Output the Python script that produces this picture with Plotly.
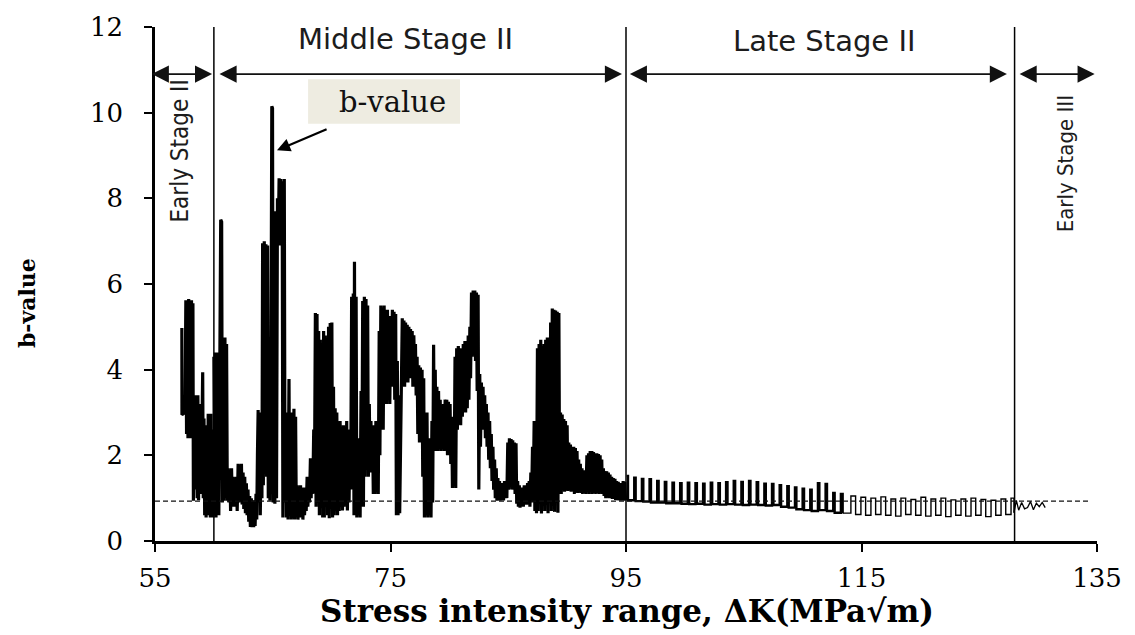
import plotly.graph_objects as go

# ---- b-value vs stress intensity range ----
# Early Stage II readings (ΔK in MPa√m, b-value)
dk_early = [57.28, 57.29, 57.55, 57.62, 57.68, 57.74, 57.80, 57.86, 57.92, 57.98,
            58.04, 58.10, 58.16, 58.22, 58.26, 58.32, 58.40, 58.46, 58.52, 58.58,
            58.64, 58.70, 58.76, 58.82, 58.88, 58.94, 59.00, 59.05, 59.10, 59.16,
            59.22, 59.28, 59.34, 59.40, 59.46, 59.52, 59.58, 59.64, 59.70, 59.76,
            59.82, 59.88, 59.94]
b_early = [4.97, 2.95, 3.0, 5.62, 2.5, 5.6, 2.4, 5.65, 2.6, 5.6,
           2.4, 5.62, 2.4, 5.55, 0.94, 3.2, 3.4, 1.2, 3.3, 1.0,
           3.4, 0.95, 3.2, 1.5, 3.0, 1.1, 2.8, 3.94, 1.0, 2.86,
           0.6, 2.5, 0.55, 2.7, 0.7, 2.97, 0.6, 2.8, 0.55, 2.97,
           0.65, 2.6, 0.55]

# Middle Stage II readings
dk_middle = [
    60.00, 60.06, 60.12, 60.18, 60.24, 60.30, 60.36, 60.42, 60.50, 60.58,
    60.66, 60.72, 60.80, 60.86, 60.94, 61.00, 61.08, 61.14, 61.22, 61.28,
    61.36, 61.42, 61.50, 61.56, 61.64, 61.70, 61.78, 61.84, 61.92, 61.98,
    62.06, 62.12, 62.20, 62.26, 62.34, 62.40, 62.48, 62.54, 62.62, 62.68,
    62.76, 62.82, 62.90, 62.96, 63.04, 63.10, 63.18, 63.24, 63.32, 63.38,
    63.44, 63.50, 63.58, 63.64, 63.70, 63.76, 63.82, 63.88, 63.94, 64.02,
    64.08, 64.14, 64.20, 64.28, 64.34, 64.42, 64.48, 64.56, 64.62, 64.70,
    64.76, 64.84, 64.92, 64.98, 65.04, 65.12, 65.18, 65.26, 65.32, 65.40,
    65.46, 65.54, 65.60, 65.68, 65.74, 65.80, 65.86, 65.92, 65.98, 66.04,
    66.10, 66.16, 66.24, 66.30, 66.38, 66.44, 66.52, 66.58, 66.66, 66.72,
    66.80, 66.86, 66.94, 67.00, 67.08, 67.14, 67.22, 67.28, 67.36, 67.42,
    67.50, 67.56, 67.64, 67.70, 67.78, 67.84, 67.92, 67.98, 68.06, 68.12,
    68.20, 68.26, 68.34, 68.40, 68.48, 68.54, 68.62, 68.68, 68.76, 68.82,
    68.90, 68.96, 69.04, 69.10, 69.18, 69.24, 69.32, 69.38, 69.46, 69.52,
    69.60, 69.66, 69.74, 69.80, 69.88, 69.94, 70.02, 70.08, 70.16, 70.22,
    70.30, 70.36, 70.44, 70.50, 70.58, 70.64, 70.72, 70.78, 70.86, 70.92,
    71.00, 71.06, 71.14, 71.20, 71.28, 71.34, 71.42, 71.48, 71.56, 71.62,
    71.70, 71.76, 71.84, 71.90, 71.94, 72.00, 72.08, 72.14, 72.22, 72.28,
    72.36, 72.42, 72.50, 72.56, 72.64, 72.70, 72.78, 72.84, 72.92, 72.98,
    73.06, 73.12, 73.20, 73.26, 73.34, 73.40, 73.48, 73.54, 73.62, 73.68,
    73.76, 73.82, 73.90, 73.96, 74.04, 74.10, 74.18, 74.24, 74.32, 74.38,
    74.46, 74.52, 74.60, 74.66, 74.74, 74.80, 74.88, 74.94, 75.02, 75.08,
    75.16, 75.22, 75.30, 75.36, 75.44, 75.50, 75.58, 75.64, 75.72, 75.78,
    75.86, 75.92, 76.00, 76.06, 76.14, 76.20, 76.28, 76.34, 76.42, 76.48,
    76.56, 76.62, 76.70, 76.76, 76.84, 76.90, 76.98, 77.04, 77.12, 77.18,
    77.26, 77.32, 77.40, 77.46, 77.54, 77.60, 77.68, 77.74, 77.82, 77.88,
    77.96, 78.02, 78.10, 78.16, 78.24, 78.30, 78.38, 78.44, 78.52, 78.58,
    78.66, 78.72, 78.80, 78.86, 78.94, 79.00, 79.08, 79.14, 79.22, 79.28,
    79.36, 79.42, 79.50, 79.56, 79.64, 79.70, 79.78, 79.84, 79.92, 79.98,
    80.06, 80.12, 80.20, 80.26, 80.34, 80.40, 80.48, 80.54, 80.62, 80.68,
    80.76, 80.82, 80.90, 80.96, 81.04, 81.10, 81.18, 81.24, 81.32, 81.38,
    81.46, 81.52, 81.60, 81.66, 81.74, 81.80, 81.88, 81.94, 82.02, 82.08,
    82.16, 82.22, 82.30, 82.36, 82.44, 82.50, 82.58, 82.64, 82.72, 82.78,
    82.86, 82.92, 83.00, 83.06, 83.14, 83.20, 83.28, 83.34, 83.42, 83.48,
    83.56, 83.62, 83.70, 83.76, 83.84, 83.90, 83.98, 84.04, 84.12, 84.18,
    84.26, 84.32, 84.40, 84.46, 84.54, 84.60, 84.68, 84.74, 84.82, 84.88,
    84.96, 85.02, 85.10, 85.16, 85.24, 85.30, 85.38, 85.44, 85.52, 85.58,
    85.66, 85.72, 85.80, 85.86, 85.94, 86.00, 86.08, 86.14, 86.22, 86.28,
    86.36, 86.42, 86.50, 86.56, 86.64, 86.70, 86.78, 86.84, 86.92, 86.98,
    87.06, 87.12, 87.20, 87.26, 87.34, 87.40, 87.48, 87.54, 87.62, 87.68,
    87.76, 87.82, 87.90, 87.96, 88.04, 88.10, 88.18, 88.24, 88.32, 88.38,
    88.46, 88.52, 88.60, 88.66, 88.74, 88.80, 88.88, 88.94, 89.02, 89.08,
    89.16, 89.22, 89.30, 89.36, 89.44, 89.50, 89.58, 89.64, 89.72, 89.78,
    89.86, 89.92, 90.00, 90.06, 90.14, 90.20, 90.28, 90.34, 90.42, 90.48,
    90.56, 90.62, 90.70, 90.76, 90.84, 90.90, 90.98, 91.04, 91.12, 91.18,
    91.26, 91.32, 91.40, 91.46, 91.54, 91.60, 91.68, 91.74, 91.82, 91.88,
    91.96, 92.02, 92.10, 92.16, 92.24, 92.30, 92.38, 92.44, 92.52, 92.58,
    92.66, 92.72, 92.80, 92.86, 92.94, 93.00, 93.08, 93.14, 93.22, 93.28,
    93.36, 93.42, 93.50, 93.56, 93.64, 93.70, 93.78, 93.84, 93.92, 93.98,
    94.06, 94.12, 94.20, 94.26, 94.34, 94.40, 94.48, 94.54, 94.62, 94.68,
    94.76, 94.82, 94.90, 94.96]
b_middle = [
    4.3, 0.6, 4.4, 0.55, 4.2, 0.9, 4.4, 0.6, 3.9, 7.5,
    7.45, 0.9, 2.0, 0.94, 4.75, 1.0, 4.6, 0.94, 1.7, 0.9,
    1.6, 0.7, 1.7, 0.94, 1.5, 0.8, 1.45, 0.9, 1.5, 0.7,
    1.8, 0.9, 1.75, 1.0, 1.8, 0.85, 1.6, 0.75, 1.5, 0.65,
    1.35, 0.6, 1.2, 0.45, 1.05, 0.33, 1.0, 0.32, 0.95, 0.32,
    0.9, 0.35, 1.1, 0.5, 2.0, 3.06, 0.9, 3.0, 0.6, 2.2,
    1.0, 6.95, 1.3, 7.0, 2.0, 6.93, 1.5, 6.9, 1.0, 4.4,
    0.94, 3.5, 10.15, 10.1, 0.9, 6.0, 0.87, 7.7, 1.0, 8.0,
    6.9, 8.47, 6.9, 8.45, 7.7, 8.4, 0.55, 6.9, 8.45, 0.9,
    3.0, 0.55, 2.0, 0.5, 3.78, 0.6, 2.5, 0.5, 3.0, 0.55,
    3.09, 0.5, 2.9, 0.6, 1.3, 0.5, 1.17, 0.55, 1.3, 0.6,
    1.2, 0.5, 1.25, 0.6, 1.17, 0.7, 1.5, 0.8, 1.3, 0.9,
    1.93, 1.0, 1.9, 1.1, 2.6, 1.2, 5.32, 0.8, 5.3, 1.0,
    4.9, 0.6, 4.7, 1.1, 4.6, 0.55, 4.9, 0.55, 4.8, 1.0,
    4.6, 0.6, 5.0, 0.53, 5.09, 1.0, 5.1, 0.55, 3.6, 0.6,
    3.1, 0.9, 3.0, 0.6, 2.5, 0.7, 2.8, 1.0, 2.6, 0.71,
    2.7, 0.8, 2.5, 1.0, 2.8, 0.71, 2.4, 0.9, 2.6, 1.2,
    5.7, 1.5, 5.78, 0.6, 6.52, 1.0, 5.7, 0.55, 2.4, 0.6,
    2.0, 0.55, 3.5, 0.9, 5.6, 0.8, 5.7, 1.5, 5.65, 1.9,
    5.5, 1.5, 3.2, 1.6, 2.8, 1.9, 2.5, 1.1, 2.7, 1.1,
    2.8, 1.2, 2.6, 1.1, 4.9, 2.0, 5.5, 3.5, 5.45, 2.6,
    5.5, 3.4, 5.4, 3.2, 5.4, 3.5, 5.25, 3.2, 5.2, 3.6,
    5.4, 4.0, 5.35, 3.3, 5.3, 0.6, 4.2, 0.6, 3.4, 0.65,
    3.0, 2.8, 5.2, 3.8, 5.15, 3.6, 5.1, 4.0, 5.05, 3.7,
    5.0, 3.8, 4.95, 4.3, 4.9, 3.6, 4.8, 4.1, 4.6, 3.4,
    4.3, 2.5, 4.1, 2.3, 4.05, 2.6, 4.0, 1.5, 3.8, 0.55,
    2.6, 0.6, 3.0, 0.55, 2.4, 0.6, 2.2, 0.55, 2.8, 0.9,
    4.58, 2.2, 4.0, 2.1, 3.6, 2.1, 3.5, 2.3, 3.3, 2.1,
    3.1, 2.2, 3.2, 2.1, 3.3, 2.2, 3.3, 2.0, 3.25, 2.2,
    3.2, 1.8, 2.9, 1.24, 2.7, 1.3, 4.3, 1.24, 4.5, 2.6,
    4.55, 2.8, 4.5, 2.7, 4.47, 2.9, 4.6, 3.2, 4.67, 3.0,
    4.6, 3.1, 4.8, 3.3, 5.0, 3.8, 5.8, 4.3, 5.85, 4.6,
    5.85, 4.2, 5.8, 3.5, 5.75, 1.2, 3.9, 2.2, 3.7, 2.8,
    3.6, 2.6, 3.4, 2.4, 3.2, 2.2, 3.0, 1.9, 2.8, 1.7,
    2.5, 1.4, 2.2, 1.2, 1.9, 1.0, 1.7, 0.94, 1.47, 1.0,
    1.4, 0.94, 1.35, 1.0, 1.33, 0.95, 1.4, 1.0, 1.35, 1.0,
    2.3, 1.2, 2.4, 1.3, 2.38, 1.2, 2.35, 1.2, 2.3, 1.1,
    2.28, 0.87, 1.4, 0.8, 1.3, 0.78, 1.25, 0.85, 1.2, 0.8,
    1.3, 0.87, 1.25, 0.85, 1.35, 0.9, 1.4, 0.8, 1.6, 0.9,
    2.2, 1.0, 2.8, 0.7, 2.6, 0.65, 4.5, 0.7, 4.6, 1.0,
    4.7, 0.64, 4.55, 1.1, 4.6, 0.7, 4.7, 1.6, 4.75, 0.65,
    4.75, 1.2, 5.1, 0.7, 5.43, 1.5, 5.4, 0.68, 5.38, 1.4,
    5.35, 0.66, 5.32, 1.2, 3.0, 1.1, 2.95, 1.2, 2.85, 1.15,
    2.8, 1.2, 2.7, 1.17, 2.3, 1.2, 2.25, 1.15, 2.2, 1.17,
    2.2, 1.1, 2.17, 1.15, 2.1, 1.12, 1.9, 1.15, 1.8, 1.12,
    1.7, 1.1, 1.65, 1.12, 1.63, 1.1, 2.0, 1.15, 2.05, 1.1,
    2.1, 1.15, 2.1, 1.1, 2.08, 1.12, 2.05, 1.1, 2.05, 1.12,
    2.03, 1.1, 2.0, 1.15, 1.9, 1.1, 1.7, 1.05, 1.6, 1.0,
    1.63, 1.05, 1.6, 1.0, 1.55, 1.0, 1.5, 0.98, 1.47, 1.0,
    1.45, 0.96, 1.4, 0.95, 1.38, 0.96, 1.35, 0.94, 1.33, 0.95,
    1.4, 0.94, 1.38, 0.95]

# Late Stage II readings, first part (alternating upper / lower b-values)
dk_late_a = [95.05, 95.17, 95.70, 95.82, 96.35, 96.47, 97.00, 97.12, 97.65, 97.77,
             98.30, 98.42, 98.95, 99.07, 99.60, 99.72, 100.25, 100.37, 100.90, 101.02,
             101.55, 101.67, 102.20, 102.32, 102.85, 102.97, 103.50, 103.62, 104.15, 104.27,
             104.80, 104.92, 105.45, 105.57, 106.10, 106.22, 106.75, 106.87, 107.40, 107.52,
             108.05, 108.17, 108.70, 108.82, 109.35, 109.47, 110.00, 110.12, 110.65, 110.77,
             111.30, 111.42, 111.95, 112.07, 112.60, 112.72, 113.25, 113.40]
b_late_a = [1.52, 0.95, 1.48, 0.93, 1.45, 0.92, 1.44, 0.90, 1.40, 0.90,
            1.38, 0.88, 1.36, 0.88, 1.35, 0.87, 1.36, 0.86, 1.35, 0.87,
            1.34, 0.85, 1.36, 0.86, 1.35, 0.85, 1.37, 0.86, 1.40, 0.85,
            1.38, 0.84, 1.40, 0.85, 1.37, 0.84, 1.34, 0.83, 1.33, 0.84,
            1.30, 0.80, 1.28, 0.78, 1.25, 0.74, 1.22, 0.72, 1.20, 0.70,
            1.35, 0.72, 1.33, 0.70, 1.12, 0.66, 1.10, 0.65]

# Late Stage II readings, second part
dk_late_b = [113.40, 114.10, 114.50, 114.95, 115.35, 115.80, 116.20, 116.65, 117.05, 117.50,
             117.90, 118.35, 118.75, 119.20, 119.60, 120.05, 120.45, 120.90, 121.30, 121.75,
             122.15, 122.60, 123.00, 123.45, 123.85, 124.30, 124.70, 125.15, 125.55, 126.00,
             126.40, 126.85, 127.25, 127.70, 127.95]
b_late_b = [0.65, 1.05, 0.62, 1.02, 0.60, 1.00, 0.62, 1.03, 0.60, 0.98,
            0.58, 1.00, 0.62, 0.97, 0.60, 1.02, 0.58, 0.98, 0.60, 1.00,
            0.57, 0.96, 0.60, 0.98, 0.58, 1.00, 0.60, 0.97, 0.57, 0.95,
            0.60, 0.98, 0.62, 1.00, 0.66]

# Early Stage III readings
dk_stage3 = [127.95, 128.15, 128.35, 128.60, 128.85, 129.10, 129.35, 129.60, 129.85, 130.10, 130.35, 130.60]
b_stage3 = [0.66, 0.95, 0.72, 0.90, 0.75, 0.78, 0.92, 0.73, 0.88, 0.80, 0.90, 0.78]

assert len(dk_early) == len(b_early)
assert len(dk_middle) == len(b_middle)
assert len(dk_late_a) == len(b_late_a)
assert len(dk_late_b) == len(b_late_b)
assert len(dk_stage3) == len(b_stage3)

# Stage boundaries, stage spans for the dimension arrows, and mean b-value
stage_bounds = [60, 95, 128]
stage_spans = [(54.6, 59.85), (60.35, 94.66), (95.2, 127.35), (128.3, 134.8)]
b_mean = 0.93
arrow_level = 10.9

x_ticks = [55, 75, 95, 115, 135]
y_ticks = [0, 2, 4, 6, 8, 10, 12]

fig = go.Figure()
line_style = dict(color="black", width=3.2)
fig.add_trace(go.Scatter(x=dk_early, y=b_early, mode="lines", line=line_style,
                         showlegend=False, hoverinfo="skip"))
fig.add_trace(go.Scatter(x=dk_middle, y=b_middle, mode="lines", line=line_style,
                         showlegend=False, hoverinfo="skip"))
fig.add_trace(go.Scatter(x=dk_late_a, y=b_late_a, mode="lines", line_shape="hv",
                         line=dict(color="black", width=2.4),
                         showlegend=False, hoverinfo="skip"))
fig.add_trace(go.Scatter(x=dk_late_b, y=b_late_b, mode="lines", line_shape="hv",
                         line=dict(color="black", width=1.4),
                         showlegend=False, hoverinfo="skip"))
fig.add_trace(go.Scatter(x=dk_stage3, y=b_stage3, mode="lines",
                         line=dict(color="black", width=1.3),
                         showlegend=False, hoverinfo="skip"))

shapes = []
for xb in stage_bounds:
    shapes.append(dict(type="line", xref="x", yref="y", x0=xb, x1=xb, y0=0, y1=12,
                       line=dict(color="black", width=1.5)))
shapes.append(dict(type="line", xref="x", yref="y", x0=55, x1=134.4, y0=b_mean, y1=b_mean,
                   line=dict(color="#111111", width=1.2, dash="5px,3px")))
# callout box behind the "b-value" label
shapes.append(dict(type="rect", xref="x", yref="y", x0=68.0, x1=80.9, y0=9.74, y1=10.78,
                   fillcolor="#EEECE1", line=dict(width=0), layer="below"))

annotations = []
for x0, x1 in stage_spans:
    annotations.append(dict(x=x1, y=arrow_level, ax=x0, ay=arrow_level, xref="x", yref="y",
                            axref="x", ayref="y", text="", showarrow=True,
                            arrowhead=2, startarrowhead=2, arrowside="end+start",
                            arrowsize=1.9, startarrowsize=1.9, arrowwidth=1.8,
                            arrowcolor="#111111", standoff=0, startstandoff=0))

stage_font = dict(family="DejaVu Sans, sans-serif", size=29, color="#1c1c1c")
narrow_font = "Liberation Sans Narrow, DejaVu Sans Condensed, sans-serif"
serif = "DejaVu Serif, Liberation Serif, serif"
annotations += [
    dict(x=76.3, y=11.72, xref="x", yref="y", text="Middle Stage II", showarrow=False,
         font=stage_font),
    dict(x=111.8, y=11.68, xref="x", yref="y", text="Late Stage II", showarrow=False,
         font=stage_font),
    dict(x=57.15, y=9.1, xref="x", yref="y", text="Early Stage II", showarrow=False,
         textangle=-90, font=dict(family=narrow_font, size=24, color="#1c1c1c")),
    dict(x=132.3, y=8.8, xref="x", yref="y", text="Early Stage III", showarrow=False,
         textangle=-90, font=dict(family=narrow_font, size=22, color="#1c1c1c")),
    dict(x=75.2, y=10.26, xref="x", yref="y", text="b-value", showarrow=False,
         font=dict(family=serif, size=29, color="#111111")),
    # pointer from the label to the b-value trace
    dict(x=65.36, y=9.12, ax=69.7, ay=9.63, xref="x", yref="y", axref="x", ayref="y",
         text="", showarrow=True, arrowhead=2, arrowsize=1.2, arrowwidth=2.2,
         arrowcolor="black", standoff=0),
    dict(x=0.501, y=-0.136, xref="paper", yref="paper", xanchor="center", yanchor="middle",
         text="<b>Stress intensity range, ΔK(MPa√m)</b>", showarrow=False,
         font=dict(family=serif, size=31, color="black")),
    dict(x=-0.136, y=0.4626, xref="paper", yref="paper", xanchor="center", yanchor="middle",
         text="<b>b-value</b>", textangle=-90, showarrow=False,
         font=dict(family=serif, size=22, color="black")),
]

axis_common = dict(showgrid=False, zeroline=False, showline=True, linecolor="black",
                   linewidth=2.5, ticks="outside", ticklen=8, tickwidth=2, tickcolor="black",
                   tickfont=dict(family=serif, size=26, color="black"))

fig.update_layout(
    width=1135, height=635,
    margin=dict(l=155, r=38, t=20, b=94),
    paper_bgcolor="white", plot_bgcolor="white",
    xaxis=dict(range=[55, 135], tickvals=x_ticks, ticklabelstandoff=4, **axis_common),
    yaxis=dict(range=[0, 12], tickvals=y_ticks, ticklabelstandoff=16, **axis_common),
    shapes=shapes, annotations=annotations,
)

fig.write_html("out.html")
